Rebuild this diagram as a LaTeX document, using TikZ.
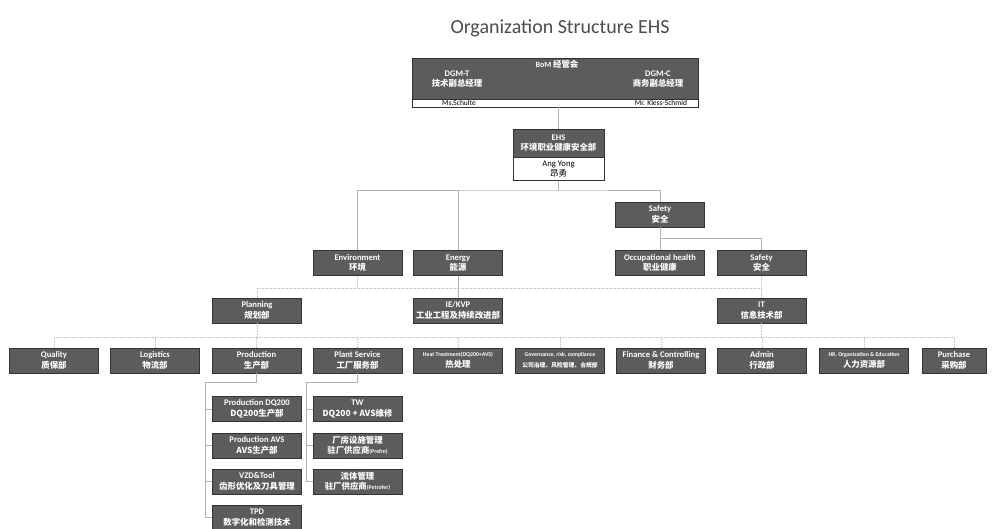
\documentclass[tikz,border=0pt]{standalone}
\usepackage{fontspec}
\setmainfont{Carlito}
\newfontfamily\cjk{Noto Sans CJK SC}
\newcommand\zh[1]{{\cjk\fontsize{8.4}{10}\selectfont #1}}
\newcommand\tinytxt[1]{{\fontsize{5.8}{6}\selectfont #1}}
\begin{document}
\begin{tikzpicture}[x=1pt,y=-1pt,
  box/.style={draw=black!80,fill=black!64,text=white,minimum width=89pt,minimum height=25pt,
    inner sep=0pt,align=center,font=\fontsize{8.6}{10.5}\selectfont\bfseries},
  namebox/.style={draw=black!80,fill=white,inner sep=0pt,align=center},
  link/.style={draw=black!30,line width=.6pt},
  faint/.style={draw=black!22,densely dotted,line width=.6pt}]
\useasboundingbox (0,0) rectangle (997,529);
\node[font=\fontsize{20}{22}\selectfont,text=black!70] (title) at (560,28) {Organization Structure EHS};
% board
\node[box,minimum width=286pt,minimum height=41pt] (bom) at (555,78.5) {};
\node[namebox,minimum width=286pt,minimum height=7.5pt,anchor=north] (bomnames) at (bom.south) {};
\node[text=white,font=\fontsize{8}{8}\selectfont\bfseries] (bomt) at (557,64) {BoM \zh{经管会}};
\node[text=white,align=center,font=\fontsize{8.6}{10.5}\selectfont\bfseries] (dgmt) at (457,79) {DGM-T\\\zh{技术副总经理}};
\node[text=white,align=center,font=\fontsize{8.6}{10.5}\selectfont\bfseries] (dgmc) at (658,79) {DGM-C\\\zh{商务副总经理}};
\node[font=\fontsize{7.5}{7}\selectfont,inner sep=0pt] (schulte) at (459,102.8) {Ms.Schulte};
\node[font=\fontsize{7.5}{7}\selectfont,inner sep=0pt] (kless) at (661,102.8) {Mr. Kless-Schmid};
% EHS
\node[box,minimum width=91pt,minimum height=28pt] (ehs) at (558.5,143) {EHS\\\zh{环境职业健康安全部}};
\node[namebox,minimum width=91pt,minimum height=23pt,anchor=north,font=\fontsize{8.6}{10.5}\selectfont] (ehsname) at (ehs.south) {Ang Yong\\\zh{昂勇}};
% second level
\node[box] (env) at (357.5,263) {Environment\\\zh{环境}};
\node[box] (energy) at (458,263) {Energy\\\zh{能源}};
\node[box] (safety) at (660,214.5) {Safety\\\zh{安全}};
\node[box] (occ) at (660,263) {Occupational health\\\zh{职业健康}};
\node[box] (safe2) at (761.5,263) {Safety\\\zh{安全}};
\node[box] (plan) at (257,310.5) {Planning\\\zh{规划部}};
\node[box] (ie) at (458,310.5) {IE/KVP\\\zh{工业工程及持续改进部}};
\node[box] (it) at (761.5,310.5) {IT\\\zh{信息技术部}};
% departments
\node[box] (quality) at (54,360.5) {Quality\\\zh{质保部}};
\node[box] (logi) at (155,360.5) {Logistics\\\zh{物流部}};
\node[box] (prod) at (256.5,360.5) {Production\\\zh{生产部}};
\node[box] (plant) at (357.5,360.5) {Plant Service\\\zh{工厂服务部}};
\node[box] (heat) at (458,360.5) {\tinytxt{Heat Treatment(DQ200+AVS)}\\\zh{热处理}};
\node[box] (gov) at (560,360.5) {\tinytxt{Governance, risk, compliance}\\{\cjk\fontsize{5.8}{8}\selectfont 公司治理、风险管理、合规部}};
\node[box] (fin) at (661,360.5) {Finance \& Controlling\\\zh{财务部}};
\node[box] (admin) at (762,360.5) {Admin\\\zh{行政部}};
\node[box] (hr) at (864,360.5) {\tinytxt{HR, Organization \& Education}\\\zh{人力资源部}};
\node[box,minimum width=64pt] (purch) at (954,360.5) {Purchase\\\zh{采购部}};
% production and plant service
\node[box] (pdq) at (257,409) {Production DQ200\\\zh{DQ200生产部}};
\node[box] (pavs) at (257,445.5) {Production AVS\\\zh{AVS生产部}};
\node[box] (vzd) at (257,481.5) {VZD\&Tool\\\zh{齿形优化及刀具管理}};
\node[box] (tpd) at (257,517.5) {TPD\\\zh{数字化和检测技术}};
\node[box] (tw) at (357.5,409) {TW\\\zh{DQ200 + AVS维修}};
\node[box] (fac) at (357.5,445.5) {\zh{厂房设施管理}\\\zh{驻厂供应商}\tinytxt{(Prefm)}};
\node[box] (fluid) at (357.5,481.5) {\zh{流体管理}\\\zh{驻厂供应商}\tinytxt{(Petrofer)}};
% connectors
\coordinate (top) at (558.5,190);
\coordinate (sbus) at (660,238);
\coordinate (mbus) at (257,288);
\coordinate (bbus) at (54,337);
\coordinate (pspine) at (205,382);
\coordinate (sspine) at (306,382);
\draw[link] (ehs.north) -- (ehs.north |- bomnames.south);
\draw[link] (ehsname.south) -- (top);
\draw[link] (env.north) |- (top) -| (safety.north);
\draw[link] (energy.north) -- (energy.north |- top);
\draw[link] (safety.south) -- (occ.north);
\draw[link] (sbus) -| (safe2.north);
\draw[faint] (plan.north) -- (mbus) -| (it.north);
\draw[faint] (env.south) -- (env.south |- mbus);
\draw[faint] (safe2.south) -- (safe2.south |- mbus);
\draw[link] (energy.south) -- (ie.north);
\draw[faint] (bbus) -- (bbus -| purch.north);
\foreach \n in {quality,logi,prod,plant,heat,gov,fin,admin,hr,purch}
  \draw[faint] (\n.north) -- (\n.north |- bbus);
\foreach \n in {plan,it}
  \draw[faint] (\n.south) -- (\n.south |- bbus);
\draw[link] (prod.south) |- (pspine) |- (tpd.west);
\foreach \n in {pdq,pavs,vzd}
  \draw[link] (\n.west) -- (\n.west -| pspine);
\draw[link] (plant.south) |- (sspine) |- (fluid.west);
\foreach \n in {tw,fac}
  \draw[link] (\n.west) -- (\n.west -| sspine);
\end{tikzpicture}
\end{document}
